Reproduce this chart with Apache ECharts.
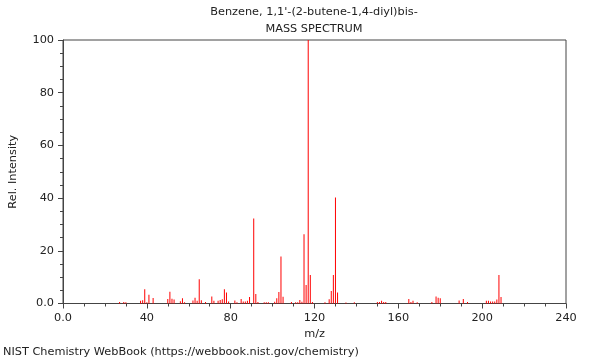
<!DOCTYPE html>
<html>
<head>
<meta charset="utf-8">
<script src="https://cdn.jsdelivr.net/npm/echarts@6/dist/echarts.min.js"></script>
<style>
html,body{margin:0;padding:0;background:#fff;}
#c{width:600px;height:360px;}
</style>
</head>
<body>
<div id="c"></div>
<script>
const titleLines = ["Benzene, 1,1'-(2-butene-1,4-diyl)bis-", "MASS SPECTRUM"];
const footer = "NIST Chemistry WebBook (https://webbook.nist.gov/chemistry)";
const xName = "m/z";
const yName = "Rel. Intensity";
const mz = [27,29,30,37,38,39,40,41,43,50,51,52,53,56,57,58,62,63,64,65,66,68,71,72,74,75,76,77,78,79,82,83,85,86,87,88,89,91,92,93,96,97,98,101,102,103,104,105,109,111,112,113,114,115,116,117,118,119,125,127,128,129,130,131,135,139,150,151,152,153,154,165,166,167,169,176,178,179,180,189,191,193,202,203,204,205,206,207,208,209];
const intensity = [0.6,0.6,0.5,1.0,1.2,5.4,0.5,3.3,2.1,1.7,4.5,1.8,1.5,0.9,2.0,0.5,1.1,2.2,1.0,9.2,1.2,0.6,2.7,1.0,1.0,1.3,1.6,5.4,4.2,0.8,1.1,0.5,1.7,0.8,0.8,1.0,2.5,32.3,3.6,0.6,0.5,0.5,0.5,0.7,2.0,4.4,17.8,2.6,0.6,0.5,0.5,1.3,0.7,26.3,7.0,100,10.8,0.6,0.5,1.6,4.7,10.8,40.2,4.2,0.4,0.5,0.6,0.6,1.0,0.6,0.6,1.7,0.6,1.0,0.5,0.6,2.7,2.2,2.0,1.1,1.7,0.6,1.0,1.0,0.8,0.8,0.8,1.5,10.8,2.5];
const xTicks = {min: 0, max: 240, step: 40};
const yTicks = {min: 0, max: 100, step: 20};

const data = mz.map((m, i) => [m, intensity[i]]);
const font = 'DejaVu Sans';
const fs = 11.3;
const ts = {fontFamily: font, fontSize: fs, fontWeight: 'normal', color: '#222'};
const chart = echarts.init(document.getElementById('c'), null, {renderer: 'canvas'});
chart.setOption({
  animation: false,
  backgroundColor: '#fff',
  title: [
    {text: titleLines[0], left: 314, top: 7, padding: 0, textAlign: 'center', textStyle: ts},
    {text: titleLines[1], left: 314, top: 24, padding: 0, textAlign: 'center', textStyle: ts},
    {text: footer, left: 3, top: 347, padding: 0, textStyle: ts}
  ],
  grid: {left: 61, right: 34, top: 40, bottom: 56.5, show: true, borderColor: '#444', borderWidth: 1, backgroundColor: 'transparent'},
  xAxis: {
    type: 'value', min: xTicks.min, max: xTicks.max, interval: xTicks.step,
    name: xName, nameLocation: 'middle', nameGap: 24,
    nameTextStyle: {fontFamily: font, fontSize: fs, color: '#222'},
    axisLine: {show: true, lineStyle: {color: '#444', width: 1}},
    axisTick: {show: true, length: 5, lineStyle: {color: '#444'}},
    minorTick: {show: true, splitNumber: 4, length: 3, lineStyle: {color: '#444'}},
    splitLine: {show: false},
    axisLabel: {fontFamily: font, fontSize: fs, color: '#222', margin: 9,
      formatter: v => v === 0 ? '0.0' : String(v)}
  },
  yAxis: {
    type: 'value', min: yTicks.min, max: yTicks.max, interval: yTicks.step,
    name: yName, nameLocation: 'middle', nameGap: 44, nameRotate: 90,
    nameTextStyle: {fontFamily: font, fontSize: fs, color: '#222'},
    axisLine: {show: true, lineStyle: {color: '#444', width: 1}},
    axisTick: {show: true, length: 5, lineStyle: {color: '#444'}},
    minorTick: {show: true, splitNumber: 4, length: 3, lineStyle: {color: '#444'}},
    splitLine: {show: false},
    axisLabel: {fontFamily: font, fontSize: fs, color: '#222', margin: 9,
      formatter: v => v === 0 ? '0.0' : String(v)}
  },
  series: [{
    type: 'bar',
    data: data,
    barWidth: 1,
    itemStyle: {color: '#ff0000'},
    emphasis: {disabled: true}
  }]
});
</script>
</body>
</html>
